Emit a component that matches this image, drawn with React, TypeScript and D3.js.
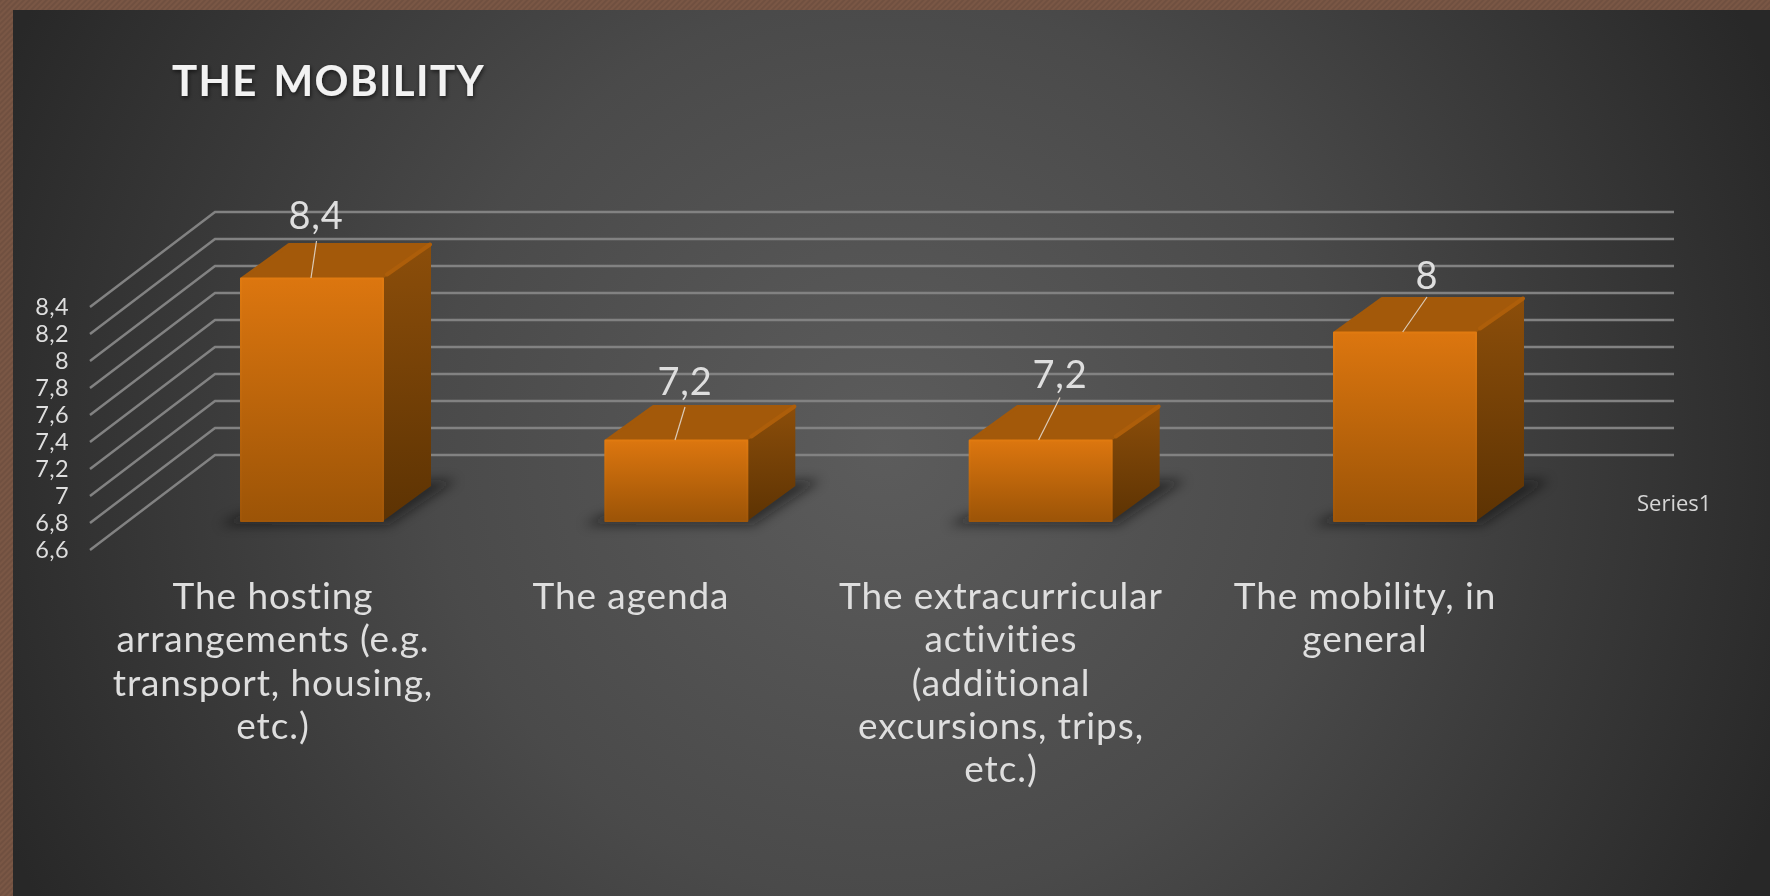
import React from "react";
import * as d3 from "d3";

const title = "THE MOBILITY";
const categories = [
  ["The hosting", "arrangements (e.g.", "transport, housing,", "etc.)"],
  ["The agenda"],
  ["The extracurricular", "activities", "(additional", "excursions, trips,", "etc.)"],
  ["The mobility, in", "general"],
];
const values = [8.4, 7.2, 7.2, 8];
const valueLabels = ["8,4", "7,2", "7,2", "8"];
const ticks = [6.6, 6.8, 7, 7.2, 7.4, 7.6, 7.8, 8, 8.2, 8.4];
const tickLabels = ["6,6", "6,8", "7", "7,2", "7,4", "7,6", "7,8", "8", "8,2", "8,4"];
const seriesName = "Series1";

// layout (not data)
const W = 1770, H = 896;
const y = d3.scaleLinear().domain([6.6, 8.4]).range([521, 278]);
const barW = 142;
const barX = d3.scaleLinear().domain([0, 3]).range([241, 1334]);
const depth = { dx: 48, dy: -35 };
const floorOffset = { front: 29, back: -66 };
const wall = { x0: 90, x1: 215, x2: 1674 };
const catX = [273, 631, 1001, 1365];
const catY0 = 609, catDY = 43.3;
const labelPos = [[316, 229], [685, 395], [1060, 388], [1427, 289]];
const leader = [[311, 278, 316.5, 241], [675, 440, 685, 407], [1038.6, 440, 1060, 397.5], [1402.7, 332, 1427, 297]];

const line = d3.line<[number, number]>();
const poly = (pts: [number, number][]) => line(pts)! + "Z";
const FONT = "Lato, 'Open Sans', sans-serif";

export default function App() {
  return (
    <svg width={W} height={H} viewBox={`0 0 ${W} ${H}`} style={{ position: "fixed", left: 0, top: 0, display: "block" }}>
      <defs>
        <radialGradient id="bg" gradientUnits="userSpaceOnUse" cx={885} cy={448} r={960}>
          <stop offset="0" stopColor="#5c5c5c" />
          <stop offset="0.47" stopColor="#4a4a4a" />
          <stop offset="1" stopColor="#282828" />
        </radialGradient>
        <pattern id="hatch" width="4" height="4" patternUnits="userSpaceOnUse" patternTransform="rotate(45)">
          <rect width="4" height="4" fill="#7a5745" />
          <rect width="2" height="4" fill="#705040" />
        </pattern>
        <linearGradient id="front" x1="0" y1="0" x2="0" y2="1">
          <stop offset="0" stopColor="#dc760f" />
          <stop offset="1" stopColor="#9c5407" />
        </linearGradient>
        <linearGradient id="edge" x1="0" y1="0" x2="0" y2="1">
          <stop offset="0" stopColor="#e07a10" />
          <stop offset="1" stopColor="#a05608" />
        </linearGradient>
        <linearGradient id="side" x1="0" y1="0" x2="0" y2="1">
          <stop offset="0" stopColor="#8c4e0a" />
          <stop offset="1" stopColor="#5d3303" />
        </linearGradient>
        <filter id="blur" x="-30%" y="-60%" width="160%" height="220%">
          <feGaussianBlur stdDeviation="6" />
        </filter>
        <filter id="tshadow" x="-10%" y="-30%" width="120%" height="170%">
          <feDropShadow dx="1" dy="2" stdDeviation="2" floodColor="#000" floodOpacity="0.6" />
        </filter>
      </defs>

      <rect width={W} height={H} fill="url(#hatch)" />
      <rect x={13} y={10} width={W - 13} height={H - 10} fill="url(#bg)" />

      <text x={172} y={96} fontFamily={FONT} fontWeight={700} fontSize={42} letterSpacing={1.4} wordSpacing={4} fill="#f2f2f2" filter="url(#tshadow)">
        {title}
      </text>

      {ticks.map((t, i) => {
        const yy = y(t);
        return (
          <g key={t}>
            <polyline
              points={`${wall.x0},${yy + floorOffset.front} ${wall.x1},${yy + floorOffset.back} ${wall.x2},${yy + floorOffset.back}`}
              fill="none"
              stroke="#828282"
              strokeWidth={2.5}
            />
            <text x={69} y={yy + floorOffset.front + 7.5} textAnchor="end" fontFamily={FONT} fontSize={23.5} letterSpacing={0.4} fill="#dedede">
              {tickLabels[i]}
            </text>
          </g>
        );
      })}

      {values.map((v, i) => {
        const x0 = barX(i), x1 = x0 + barW, y0 = y(6.6), yt = y(v) + 0.5;
        const { dx, dy } = depth;
        return (
          <g key={i}>
            <path
              d={poly([[x0 - 22, y0 + 4], [x1 + 6, y0 + 4], [x1 + dx + 26, y0 + dy - 6], [x1 + dx - 10, y0 + dy - 6], [x1 - 30, y0 - 8], [x0 - 2, y0 - 6]])}
              fill="#0c0c0c"
              opacity={0.55}
              filter="url(#blur)"
            />
            <path d={poly([[x0 + 1, yt], [x0 + dx, yt + dy + 1], [x1 + dx - 1, yt + dy + 1], [x1, yt]])} fill="#a3590a" stroke="#a3590a" strokeWidth={3} strokeLinejoin="round" />
            <path d={poly([[x1, yt], [x1 + dx, yt + dy], [x1 + dx, y0 + dy], [x1, y0]])} fill="url(#side)" strokeLinejoin="round" />
            <line x1={x1 + 4} y1={yt - 4} x2={x1 + dx - 1} y2={yt + dy + 1} stroke="#ad5e0a" strokeWidth={4} strokeLinecap="round" />
            <path d={poly([[x0, yt], [x1, yt], [x1, y0], [x0, y0]])} fill="url(#front)" stroke="url(#edge)" strokeWidth={2} strokeLinejoin="round" />
            <line x1={leader[i][0]} y1={leader[i][1]} x2={leader[i][2]} y2={leader[i][3]} stroke="#dccbb8" strokeWidth={1.2} />
            <text x={labelPos[i][0]} y={labelPos[i][1]} textAnchor="middle" fontFamily={FONT} fontSize={38} letterSpacing={0.8} fill="#dedede">
              {valueLabels[i]}
            </text>
          </g>
        );
      })}

      {categories.map((lines, i) => (
        <text key={i} textAnchor="middle" fontFamily={FONT} fontSize={37} letterSpacing={0.9} fill="#dedede">
          {lines.map((l, j) => (
            <tspan key={j} x={catX[i]} y={catY0 + j * catDY}>{l}</tspan>
          ))}
        </text>
      ))}

      <text x={1637} y={511} fontFamily="'Open Sans', sans-serif" fontSize={22} fill="#d6d6d6">{seriesName}</text>
    </svg>
  );
}
